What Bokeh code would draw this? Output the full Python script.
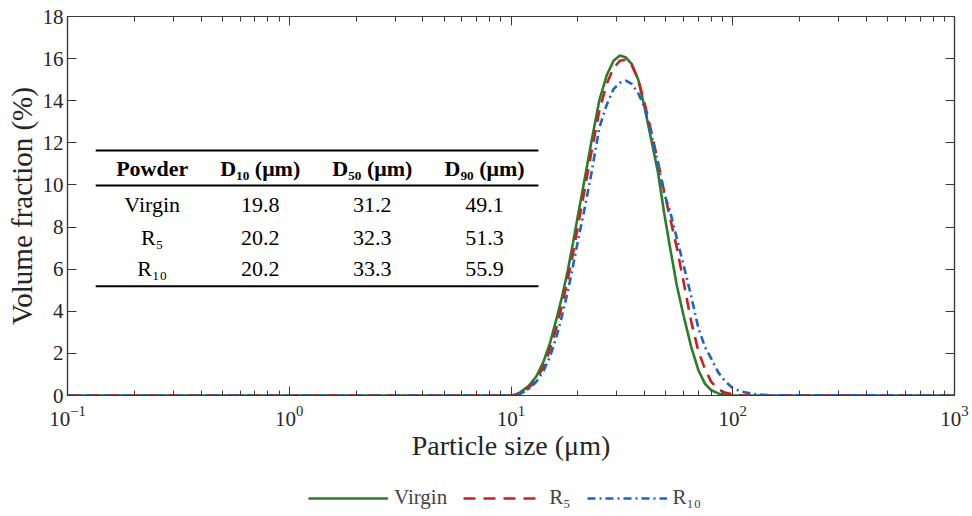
from bokeh.plotting import figure
from bokeh.layouts import column
from bokeh.models import (Range1d, FixedTicker, LogTickFormatter, LogAxis, LinearAxis,
                          Legend, LegendItem, CustomJSTickFormatter)
from bokeh.embed import file_html
from bokeh.resources import INLINE
from bokeh.core.properties import value

# ---------------- data ----------------
size_um = [0.1, 1, 10, 10.5, 11, 12, 13, 14, 15, 16, 17, 18, 19, 20, 21.5, 23, 25, 27, 29,
           31, 33, 35, 37.5, 40, 43, 46, 49, 52, 56, 60, 65, 70, 75, 80, 86, 92, 100,
           110, 120, 130, 150, 1000]
virgin = [0, 0, 0, 0.05, 0.15, 0.45, 0.9, 1.6, 2.5, 3.6, 4.7, 5.9, 7.2, 8.5, 10.3, 12.0, 14.0,
          15.2, 15.9, 16.15, 16.05, 15.75, 15.0, 13.7, 12.1, 10.6, 8.7, 7.1, 5.2, 3.8, 2.3,
          1.2, 0.55, 0.25, 0.1, 0.03, 0, 0, 0, 0, 0, 0]
r5 = [0, 0, 0, 0.03, 0.1, 0.35, 0.75, 1.35, 2.2, 3.2, 4.3, 5.5, 6.7, 8.0, 9.8, 11.5, 13.5,
      14.8, 15.55, 15.9, 15.95, 15.7, 15.0, 13.9, 12.5, 11.1, 9.7, 8.5, 7.0, 5.4, 3.5,
      2.1, 1.25, 0.65, 0.3, 0.14, 0.05, 0.01, 0, 0, 0, 0]
r10 = [0, 0, 0, 0.02, 0.08, 0.3, 0.65, 1.15, 1.85, 2.75, 3.8, 4.9, 6.1, 7.3, 8.9, 10.5, 12.7,
       13.8, 14.55, 14.85, 14.95, 14.8, 14.35, 13.7, 12.4, 11.0, 9.6, 8.8, 7.45, 6.2, 4.7,
       3.2, 2.3, 1.75, 1.1, 0.7, 0.35, 0.18, 0.1, 0.05, 0.01, 0]

series_names = ["Virgin", "R\u2085", "R\u2081\u2080"]

x_ticks = [0.1, 1, 10, 100, 1000]
x_minor = [m * d for d in [0.1, 1, 10, 100] for m in range(2, 10)]
y_ticks = [0, 2, 4, 6, 8, 10, 12, 14, 16, 18]

table_header = ["Powder", "D\u2081\u2080 (\u03bcm)", "D\u2085\u2080 (\u03bcm)", "D\u2089\u2080 (\u03bcm)"]
table_powder = ["Virgin", "R\u2085", "R\u2081\u2080"]
table_d10 = ["19.8", "20.2", "20.2"]
table_d50 = ["31.2", "32.3", "33.3"]
table_d90 = ["49.1", "51.3", "55.9"]

# ---------------- styling ----------------
FONT = "Liberation Serif"
AX = "#3a3a3a"
colors = ["#2b7d2b", "#cc1f1f", "#1e63c8"]
dashes = ["solid", "12 8", "8 4 2 4"]

p = figure(width=970, height=470, x_axis_type="log",
           x_range=Range1d(0.1, 1000), y_range=Range1d(0, 18),
           output_backend="svg", toolbar_location=None,
           min_border_left=67, min_border_right=16, min_border_top=16, min_border_bottom=75)
p.xgrid.visible = False
p.ygrid.visible = False
p.outline_line_color = AX
p.outline_line_width = 1.2
p.background_fill_color = "white"
p.border_fill_color = "white"

xt = FixedTicker(ticks=x_ticks, minor_ticks=x_minor)
yt = FixedTicker(ticks=y_ticks)


def style_axis(ax, labels=True):
    ax.axis_line_color = AX
    ax.axis_line_width = 1.2
    ax.major_tick_line_color = AX
    ax.minor_tick_line_color = AX
    ax.major_tick_in = 9
    ax.major_tick_out = 0
    ax.minor_tick_in = 5
    ax.minor_tick_out = 0
    ax.major_label_text_font = FONT
    ax.major_label_text_color = "#262626"
    ax.axis_label_text_font = FONT
    ax.axis_label_text_font_style = "normal"
    ax.axis_label_text_color = "#262626"
    if not labels:
        ax.formatter = CustomJSTickFormatter(code="return ''")
        ax.major_label_text_font_size = "1px"
        ax.major_label_standoff = 0


xa = p.xaxis[0]
xa.ticker = xt
xa.formatter = LogTickFormatter()
style_axis(xa)
xa.major_label_text_font_size = "21px"
xa.major_label_standoff = 10
xa.axis_label = "Particle size (\u03bcm)"
xa.axis_label_text_font_size = "28px"
xa.axis_label_standoff = 1

ya = p.yaxis[0]
ya.ticker = yt
style_axis(ya)
ya.minor_tick_in = 0
ya.major_label_text_font_size = "21px"
ya.major_label_standoff = 4
ya.axis_label = "Volume fraction (%)"
ya.axis_label_text_font_size = "29px"
ya.axis_label_standoff = 2

top = LogAxis(ticker=xt)
style_axis(top, labels=False)
p.add_layout(top, "above")
right = LinearAxis(ticker=yt)
style_axis(right, labels=False)
right.minor_tick_in = 0
p.add_layout(right, "right")

# ---------------- curves ----------------
for ys, c, d in zip([virgin, r5, r10], colors, dashes):
    p.line(size_um, ys, line_color=c, line_width=2.6, line_dash=d)

# ---------------- table (inset) ----------------
tbl_left, tbl_right = 0.134, 13.3
rule_y = [11.63, 9.97, 5.19]
for yy in rule_y:
    p.line([tbl_left, tbl_right], [yy, yy], line_color="black", line_width=2)

col_x = [0.241, 0.74, 2.37, 7.6]
header_y = 10.78
row_y = [9.07, 7.5, 6.03]

p.text(x=col_x, y=[header_y] * 4, text=table_header, text_font=value(FONT),
       text_font_style="bold", text_font_size=value("22px"), text_align="center",
       text_baseline="middle", text_color="black")
for cx, col in zip(col_x, [table_powder, table_d10, table_d50, table_d90]):
    p.text(x=[cx] * 3, y=row_y, text=col, text_font=value(FONT),
           text_font_size=value("22px"), text_align="center",
           text_baseline="middle", text_color="black")

# ---------------- legend strip below the chart ----------------
pl = figure(width=970, height=44, output_backend="svg", toolbar_location=None,
            x_axis_location=None, y_axis_location=None, min_border=0,
            x_range=Range1d(0, 1), y_range=Range1d(0, 1))
pl.grid.visible = False
pl.outline_line_color = None
# off-range stand-in lines, only used to draw the legend samples
leg_r = [pl.line([-5, -4], [-5, -4], line_color=c, line_width=2.6, line_dash=d)
         for c, d in zip(colors, dashes)]
legend = Legend(items=[LegendItem(label=n, renderers=[r]) for n, r in zip(series_names, leg_r)],
                orientation="horizontal", location=(241, 4),
                glyph_width=80, glyph_height=20, label_standoff=6, spacing=16,
                label_text_font=FONT, label_text_font_size="21px",
                border_line_color=None, background_fill_alpha=0, padding=0, margin=0)
pl.add_layout(legend)

layout = column(p, pl, spacing=0)
open("out.html", "w").write(file_html(layout, INLINE))
